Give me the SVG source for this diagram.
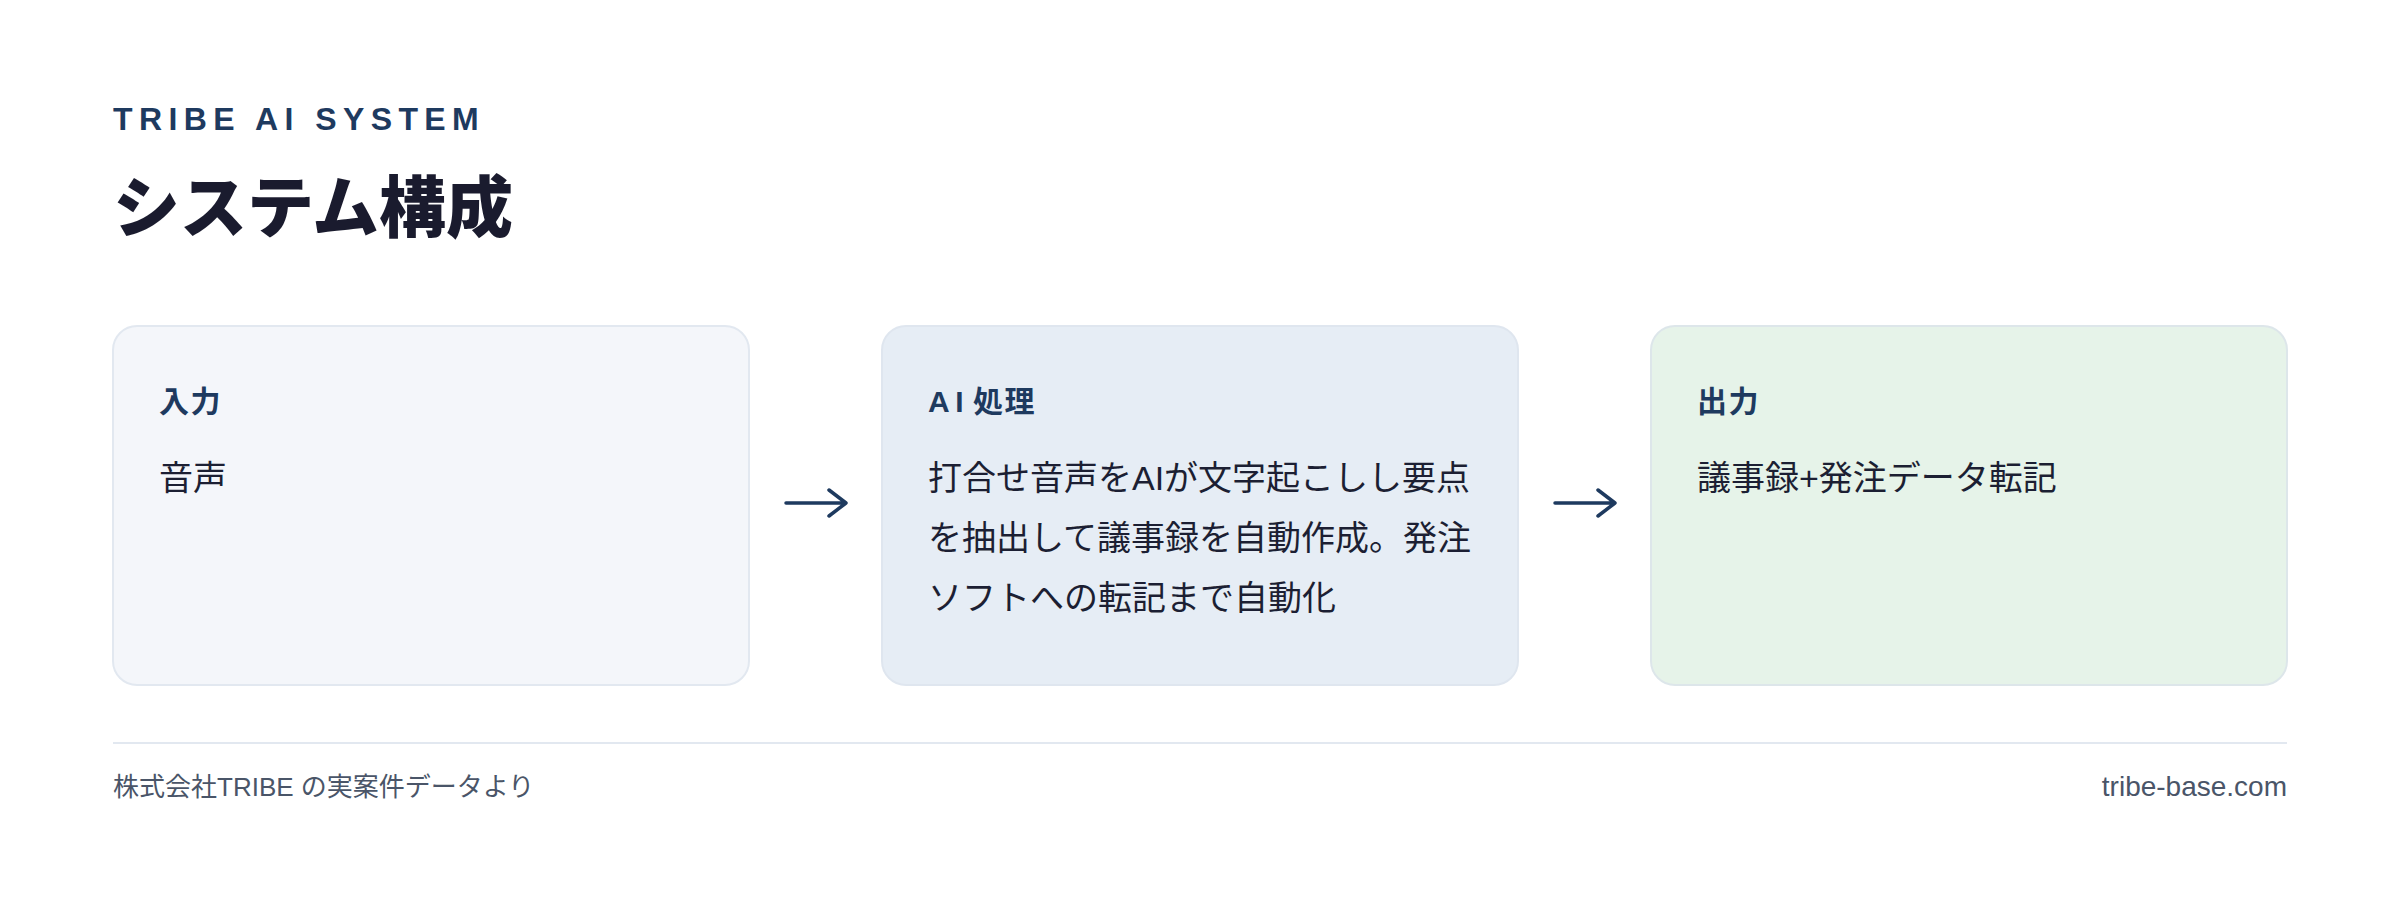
<svg xmlns="http://www.w3.org/2000/svg" width="2400" height="904" viewBox="0 0 2400 904">
  <defs>
    <style>
      .eyebrow { font-family: "Liberation Sans", "Noto Sans CJK JP", sans-serif; font-size: 32px; font-weight: 700; letter-spacing: 6.4px; fill: #1e3a5f; }
      .title { font-family: "Noto Sans CJK JP", sans-serif; font-size: 67px; font-weight: 900; fill: #1a1b2e; }
      .box-title { font-family: "Liberation Sans", "Noto Sans CJK JP", sans-serif; font-size: 30px; font-weight: 700; letter-spacing: 1.5px; fill: #1e3a5f; }
      .box-body { font-family: "Liberation Sans", "Noto Sans CJK JP", sans-serif; font-size: 34px; font-weight: 400; fill: #1c1f33; }
      .footer { font-family: "Liberation Sans", "Noto Sans CJK JP", sans-serif; font-size: 26px; fill: #4a5568; }
      .footer-url { font-family: "Liberation Sans", "Noto Sans CJK JP", sans-serif; font-size: 28px; fill: #4a5568; }
      .conn { fill: none; stroke: #1e3a5f; stroke-width: 3.5; stroke-linecap: round; stroke-linejoin: round; }
    </style>
  </defs>
  <rect x="0" y="0" width="2400" height="904" fill="#ffffff"/>

  <g id="header">
    <text class="eyebrow" x="113" y="130">TRIBE AI SYSTEM</text>
    <text class="title" x="113" y="232">システム構成</text>
  </g>

  <g id="node-input">
    <rect x="113" y="326" width="636" height="359" rx="24" ry="24" fill="#f4f6fa" stroke="#e2e8f0" stroke-width="2"/>
    <text class="box-title" x="159" y="412">入力</text>
    <text class="box-body" x="159" y="490">音声</text>
  </g>

  <g id="node-ai">
    <rect x="882" y="326" width="636" height="359" rx="24" ry="24" fill="#e6edf5" stroke="#dfe6ef" stroke-width="2"/>
    <text class="box-title" x="928" y="412" dx="0 4 8">AI処理</text>
    <text class="box-body" x="928" y="490">打合せ音声をAIが文字起こしし要点</text>
    <text class="box-body" x="928" y="550">を抽出して議事録を自動作成。発注</text>
    <text class="box-body" x="928" y="610">ソフトへの転記まで自動化</text>
  </g>

  <g id="node-output">
    <rect x="1651" y="326" width="636" height="359" rx="24" ry="24" fill="#e6f3e9" stroke="#dde6ea" stroke-width="2"/>
    <text class="box-title" x="1697" y="412">出力</text>
    <text class="box-body" x="1697" y="490">議事録+発注データ転記</text>
  </g>

  <g id="connectors">
    <path class="conn" d="M786 503 H846 M829 490 L846 503 L829 516"/>
    <path class="conn" d="M1555 503 H1615 M1598 490 L1615 503 L1598 516"/>
  </g>

  <g id="footer">
    <line x1="113" y1="743" x2="2287" y2="743" stroke="#e2e8f0" stroke-width="2"/>
    <text class="footer" x="113" y="796">株式会社TRIBE の実案件データより</text>
    <text class="footer-url" x="2287" y="796" text-anchor="end">tribe-base.com</text>
  </g>
</svg>
